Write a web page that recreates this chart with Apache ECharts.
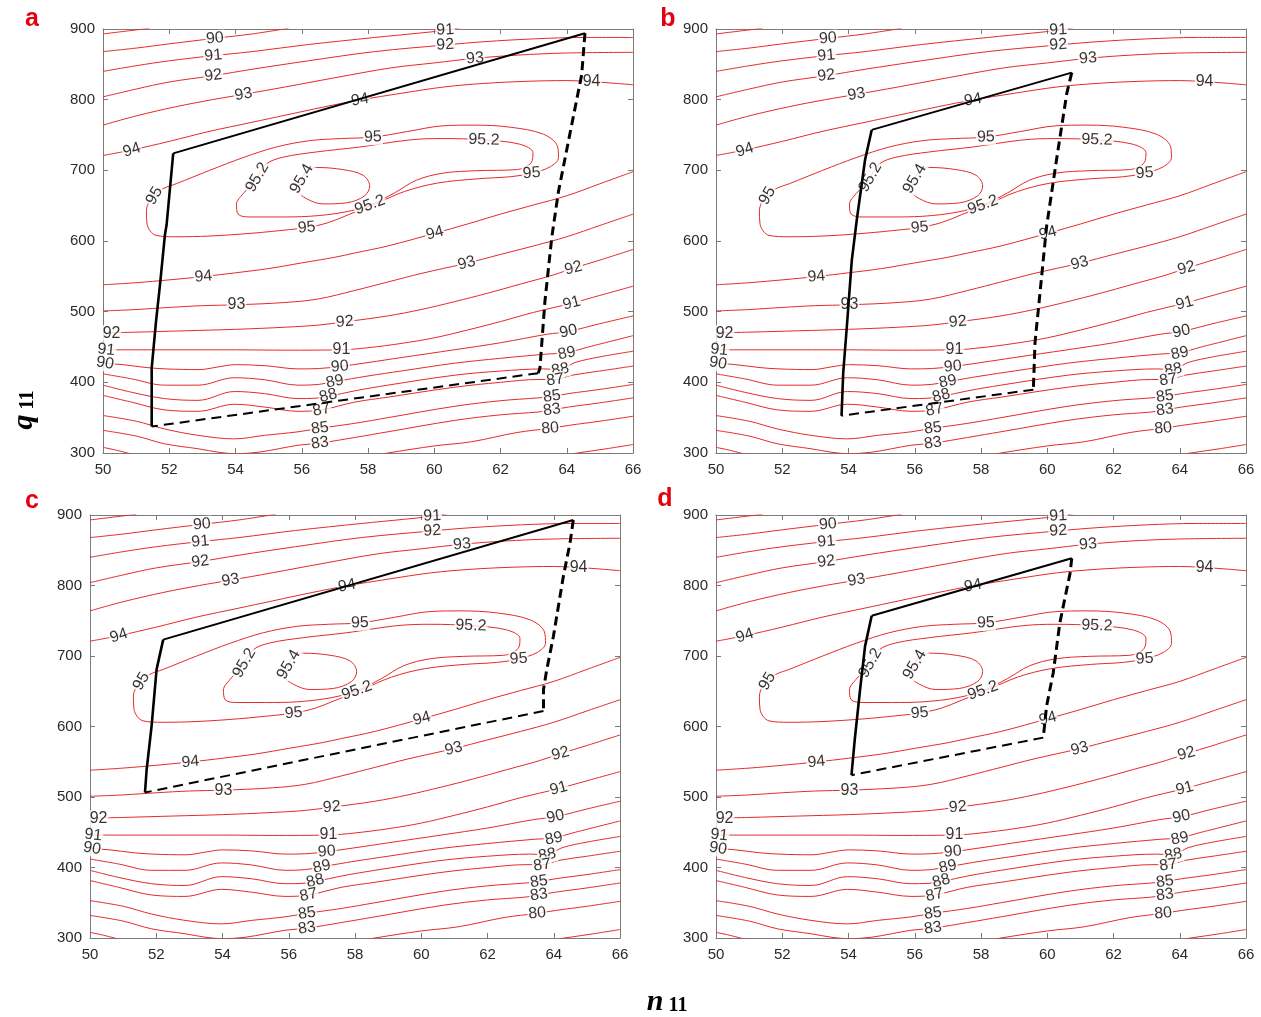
<!DOCTYPE html>
<html><head><meta charset="utf-8">
<script src="https://cdn.jsdelivr.net/npm/echarts@6/dist/echarts.min.js"></script>
<style>html,body{margin:0;padding:0;background:#fff}#c{width:1261px;height:1017px}</style>
</head><body><div id="c"></div>
<script>
// ---------- axis ticks ----------
const xTicks = [50, 66, 2];   // min, max, interval
const yTicks = [300, 900, 100];

// ---------- contour lines (n11, q11) ----------
const c89_top = [[50,893],[50.7,897],[51.4,901]];
const c90_top = [[50,868],[51,873],[52,879],[53.38,886.8],[54.5,893],[55.6,901]];
const c91_top = [[50,840],[51,848],[52,855],[53.33,862.3],[54.5,868],[56.2,878],[58.2,888],[59.5,894],[60.3,898],[60.8,902]];
const c92_top = [[50,804],[51,815],[52,825],[53.33,834],[54.5,843],[56.2,855],[58.2,868],[60.33,877.4],[61.5,882],[63,886],[64.5,888],[66,888]];
const c93_top = [[50,764],[51,777],[52.2,790],[53.3,800],[54.24,807.5],[55.5,818],[57,831],[58.7,845],[60,852],[61.23,858.5],[62.5,863],[64,866],[66,867]];
const c94_top = [[50,721],[50.87,728.8],[52,741],[53.2,755],[54.5,768],[55.5,778],[56.7,790],[57.76,799.6],[59,809],[60.3,818],[61.5,823],[62.8,826],[64,827],[64.75,825.5],[65.5,823],[66,821]];
const c95_loop = [[51.55,664],[51.41,657],[51.31,643],[51.33,624],[51.6,608],[52.2,606],[53.2,607],[54.5,611],[55.6,616],[56.15,619],[56.8,626],[57.4,637],[58.25,653],[59.1,670],[60.1,682],[61.3,688],[62.3,691],[62.94,696],[63.5,705],[63.75,718],[63.72,734],[63.3,751],[62.3,761],[61.2,764],[60.26,763],[59.2,755],[58.15,747],[57.2,745],[56.24,742],[55.23,733],[54.23,718],[53.22,700],[52.21,681],[51.81,674],[51.55,664]];
const c952_loop = [[54.66,690],[54.45,678],[54.23,667],[54.03,652],[54.08,638],[54.43,634],[55.3,634],[56.24,635],[57.3,641],[58.06,651],[58.8,668],[59.46,686],[60.26,696],[61.27,699.5],[62.48,701],[62.93,711],[62.98,725],[62.58,737],[61.5,743],[60.26,745],[59.26,743],[57.75,733],[56.44,726],[55.43,718.5],[54.93,709],[54.66,690]];
const c954_loop = [[56.0,688],[56.14,699],[56.44,704],[57.25,701],[57.85,693],[58.05,678],[57.9,664],[57.35,654],[56.64,652.5],[56.14,660],[55.89,671],[55.94,682],[56.0,688]];
const c94_bot = [[50,538],[51,541],[52,545],[53.03,549.7],[54,555],[55,561],[56,569],[57,577],[57.6,583],[58.6,593],[60.02,611],[61,624],[62,638],[63,651],[64,664],[65,681],[66,698]];
const c93_bot = [[50,501],[51,503],[52,506],[53,508.5],[54.03,509.7],[55.5,513],[56.5,518],[57.6,530],[58.6,542],[59.6,554],[60.98,568.6],[62,581],[63,593],[64,606],[65,622],[66,638]];
const c92_bot = [[50,470],[51,471],[52.5,473],[54,475],[55.5,478],[56.5,481],[57.3,485.6],[58.6,494],[59.6,503],[60.6,514],[61.6,526],[62.6,539],[63.6,552],[64.2,561.5],[65,573],[66,588]];
const c91_bot = [[50,446],[51,446],[52.5,446],[54,446],[55.5,445.5],[57.2,446],[58,449],[59,455],[60,463],[61,474],[62,486],[63,499],[64.15,512],[65,523],[66,536]];
const c90_bot = [[50,427],[50.6,425],[51.3,421],[51.9,419],[52.9,418],[53.5,422],[54,425],[54.9,423.5],[55.9,419],[56.5,419.5],[57.15,422.4],[58,428],[59,435],[60.6,446],[62,456],[63.4,468],[64.05,472],[65,483],[66,494]];
const c89_bot = [[50,412],[50.86,405],[51.86,396],[52.87,396],[53.97,406.5],[54.88,403.6],[55.89,396],[56.5,397],[57,401],[58,409],[59,416],[60.6,427],[62,434],[63.4,440],[64,442],[64.65,450],[66,466]];
const c88_bot = [[50,396],[50.86,386],[51.86,377],[52.87,374.5],[53.97,387],[54.88,384],[55.89,377],[56.4,377.5],[56.8,380],[57.6,388],[58.6,396],[60.6,410],[62,416],[63.3,419],[63.8,418],[64.25,428],[65,436],[66,444]];
const c87_bot = [[50,381.5],[50.86,372],[51.86,361],[52.87,359],[53.97,369],[54.88,365],[55.89,359],[56.6,361],[57.6,372],[58.6,379],[60.6,393],[62,400],[63.14,404],[63.65,404],[64.15,410],[65,416],[66,423]];
const c85_bot = [[50,353],[51,345],[51.86,334],[52.87,325],[53.97,320],[54.88,325],[55.89,330],[56.55,335],[57.6,342],[58.6,350],[60.6,366],[62,374],[63.14,378],[63.55,380],[64.05,384],[65,390],[66,397]];
const c83_bot = [[50,332],[51,324],[51.86,313],[52.87,306],[53.5,301],[54,299],[54.68,301],[55.3,306],[55.89,311],[56.55,314],[57.6,322],[58.6,330],[60.6,346],[62,354],[63.14,358],[63.55,361],[64.05,365],[65,371],[66,378]];
const c80_left = [[50,308],[50.4,304],[50.9,298]];
const c80_right = [[58.4,298],[58.6,300],[60,310],[61.13,316],[62.5,329],[63.5,335],[64.05,339],[65,345],[66,352]];
const c77_right = [[64.2,299],[64.4,300.5],[65.2,306],[66,312]];
const contourLines = [c89_top,c90_top,c91_top,c92_top,c93_top,c94_top,c95_loop,c952_loop,c954_loop,
  c94_bot,c93_bot,c92_bot,c91_bot,c90_bot,c89_bot,c88_bot,c87_bot,c85_bot,c83_bot,c80_left,c80_right,c77_right];

// ---------- contour labels: [n11, q11, text, angle] ----------
const contourLabels = [
  [53.38,886.8,'90',5],[53.33,862.3,'91',5],[53.33,834,'92',7],[54.24,807.5,'93',10],[50.87,728.8,'94',18],
  [60.33,898.6,'91',3],[60.33,877.4,'92',3],[61.23,858.5,'93',5],[57.76,799.6,'94',10],[64.75,825.5,'94',0],
  [58.15,747,'95',2],[61.5,743,'95.2',-2],[62.94,696,'95',4],[58.06,651,'95.2',20],
  [54.66,690,'95.2',60],[56.0,688,'95.4',60],[51.55,664,'95',60],[56.15,619,'95',5],
  [60.02,611,'94',15],[53.03,549.7,'94',5],[54.03,509.7,'93',0],[60.98,568.6,'93',15],
  [64.2,561.5,'92',15],[57.3,485.6,'92',5],[50.26,469.6,'92',0],
  [50.1,446,'91',-6],[57.2,446,'91',0],[64.15,512,'91',15],
  [50.06,427,'90',-10],[57.15,422.4,'90',5],[64.05,472,'90',13],
  [57.0,401,'89',12],[64.0,441,'89',12],[56.8,381,'88',15],[63.8,418,'88',10],
  [56.6,361,'87',12],[63.65,403.5,'87',8],[56.55,335,'85',8],[63.55,380,'85',8],
  [56.55,314,'83',8],[63.55,361,'83',8],[63.5,335,'80',5]
];

// ---------- black operating regions per panel ----------
const polyA_left = [[51.47,337.5],[51.47,420],[51.6,486],[51.72,538],[51.87,609],[51.92,623],[52.12,724]];
const polyA_top = [[52.12,724],[64.55,894]];
const polyA_right = [[64.55,894],[64.45,835],[64.05,741],[63.75,670],[63.55,606],[63.34,514],[63.19,420],[63.14,413]];
const polyA_bottom = [[63.14,413],[51.47,337.5]];

const polyB_left = [[53.79,352.8],[53.84,413],[53.95,479],[54.1,573],[54.25,630],[54.5,715],[54.7,757.2]];
const polyB_top = [[54.7,757.2],[60.74,838.3]];
const polyB_right = [[60.74,838.3],[60.59,809],[60.28,715],[59.98,620.5],[59.78,526],[59.63,456],[59.58,389.6]];
const polyB_bottom = [[59.58,389.6],[53.79,352.8]];

const polyC_left = [[51.66,506.4],[51.71,539],[51.86,601],[52.01,681],[52.21,723.2]];
const polyC_top = [[52.21,723.2],[64.59,892.9]];
const polyC_right = [[64.59,892.9],[64.49,860],[64.29,813],[63.99,728],[63.79,681],[63.69,652.5],[63.69,622]];
const polyC_bottom = [[63.69,622],[51.66,506.4]];

const polyD_left = [[54.09,531],[54.19,582],[54.35,652.5],[54.5,714],[54.7,757.2]];
const polyD_top = [[54.7,757.2],[60.74,838.7]];
const polyD_right = [[60.74,838.7],[60.69,817.5],[60.38,747],[60.18,676],[59.98,629],[59.88,584.2]];
const polyD_bottom = [[59.88,584.2],[54.09,531]];

const panelLetters = ['a','b','c','d'];
const polys = [
  [polyA_left,polyA_top,polyA_right,polyA_bottom],
  [polyB_left,polyB_top,polyB_right,polyB_bottom],
  [polyC_left,polyC_top,polyC_right,polyC_bottom],
  [polyD_left,polyD_top,polyD_right,polyD_bottom]
];

// ---------- layout ----------
const grids = [
  {left:103, top:29, width:530, height:424},
  {left:716, top:29, width:530, height:424},
  {left:90, top:515, width:530, height:423},
  {left:716, top:515, width:530, height:423}
];
const letterPos = [[32,19],[668,19],[32,501],[665,499]];

const AX = '#7a7a7a';
const RED = '#e52a2a';
const xAxes = [], yAxes = [], series = [];
grids.forEach((g, i) => {
  const baseX = {
    type:'value', gridIndex:i, min:xTicks[0], max:xTicks[1], interval:xTicks[2],
    axisLine:{show:true, onZero:false, lineStyle:{color:AX, width:1}},
    axisTick:{show:true, inside:true, length:5, lineStyle:{color:AX}},
    splitLine:{show:false}
  };
  const baseY = {
    type:'value', gridIndex:i, min:yTicks[0], max:yTicks[1], interval:yTicks[2],
    axisLine:{show:true, onZero:false, lineStyle:{color:AX, width:1}},
    axisTick:{show:true, inside:true, length:5, lineStyle:{color:AX}},
    splitLine:{show:false}
  };
  const lab = {show:true, color:'#2a2a2a', fontSize:15, fontFamily:'Liberation Sans, Arial, sans-serif'};
  xAxes.push(Object.assign({}, baseX, {position:'bottom', axisLabel:Object.assign({margin:9}, lab)}));
  xAxes.push(Object.assign({}, baseX, {position:'top', axisLabel:{show:false}}));
  yAxes.push(Object.assign({}, baseY, {position:'left', axisLabel:Object.assign({margin:8}, lab)}));
  yAxes.push(Object.assign({}, baseY, {position:'right', axisLabel:{show:false}}));
  const xi = 2*i, yi = 2*i;
  contourLines.forEach(line => {
    series.push({
      type:'line', xAxisIndex:xi, yAxisIndex:yi, data:line, smooth:0.35,
      symbol:'none', showSymbol:false, silent:true, animation:false, clip:true, z:2,
      lineStyle:{color:RED, width:1}
    });
  });
  series.push({
    type:'scatter', xAxisIndex:xi, yAxisIndex:yi, silent:true, animation:false, z:3,
    symbol:'rect', symbolSize:1, itemStyle:{color:'rgba(0,0,0,0)'},
    data: contourLabels.map(l => ({value:[l[0], l[1]], name:l[2], label:{rotate:l[3]}})),
    label:{show:true, position:'inside', formatter:'{b}', color:'#000', fontSize:16,
      fontFamily:'Liberation Sans, Arial, sans-serif', backgroundColor:'#fff', padding:[0,1]},
    labelLayout:{hideOverlap:false}
  });
  const p = polys[i];
  const styles = [
    {color:'#000', width:2.6, type:'solid'},
    {color:'#000', width:2, type:'solid'},
    {color:'#000', width:3, type:[9,5]},
    {color:'#000', width:2, type:[10,6]}
  ];
  p.forEach((seg, k) => {
    series.push({
      type:'line', xAxisIndex:xi, yAxisIndex:yi, data:seg, symbol:'none', showSymbol:false,
      silent:true, animation:false, z:4, lineStyle:styles[k]
    });
  });
});

const graphic = [];
letterPos.forEach((pos, i) => {
  graphic.push({type:'text', x:pos[0], y:pos[1], style:{text:panelLetters[i], fill:'#e3000f',
    font:'bold 25px "Liberation Sans", Arial, sans-serif', textAlign:'center', textVerticalAlign:'middle'}});
});
graphic.push({type:'text', x:655, y:1002, style:{text:'n', fill:'#000', font:'italic bold 30px "Liberation Serif", serif', textAlign:'center', textVerticalAlign:'middle'}});
graphic.push({type:'text', x:678, y:1006, style:{text:'11', fill:'#000', font:'bold 20px "Liberation Serif", serif', textAlign:'center', textVerticalAlign:'middle'}});
graphic.push({type:'group', x:24, y:413, rotation:Math.PI/2, children:[
  {type:'text', x:-9, y:0, style:{text:'q', fill:'#000', font:'italic bold 30px "Liberation Serif", serif', textAlign:'center', textVerticalAlign:'middle'}},
  {type:'text', x:13, y:4, style:{text:'11', fill:'#000', font:'bold 20px "Liberation Serif", serif', textAlign:'center', textVerticalAlign:'middle'}}
]});

const chart = echarts.init(document.getElementById('c'), null, {renderer:'canvas'});
chart.setOption({
  backgroundColor:'#fff', animation:false,
  grid: grids, xAxis: xAxes, yAxis: yAxes, series: series, graphic: graphic
});
</script></body></html>
